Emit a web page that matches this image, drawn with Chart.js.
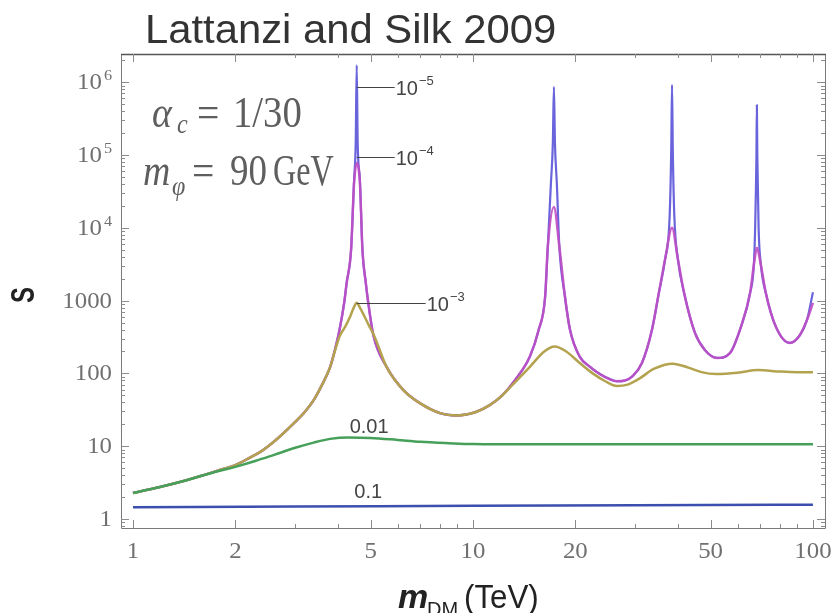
<!DOCTYPE html>
<html>
<head>
<meta charset="utf-8">
<title>Lattanzi and Silk 2009</title>
<script src="https://cdn.jsdelivr.net/npm/chart.js@4.4.1/dist/chart.umd.min.js"></script>
<style>
  html, body { margin: 0; padding: 0; background: #fff; }
  canvas { display: block; }
</style>
</head>
<body>
<canvas id="boostChart" width="833" height="613"></canvas>
<script>
// ============================================================
// Sommerfeld boost S vs m_DM, alpha_c = 1/30, m_phi = 90 GeV
// ============================================================

// ===== DATA =====
// v = 0.1
const massV01 = [1, 3, 10, 30, 100];
const boostV01 = [1.45, 1.48, 1.52, 1.55, 1.57];

// v = 0.01
const massV001 = [1.0, 1.2, 1.4, 1.6, 1.8, 2.0, 2.3, 2.6, 3.0, 3.4, 3.8, 4.3, 5.0, 6.0, 7.0, 8.5, 10, 15, 30, 100];
const boostV001 = [2.28, 2.75, 3.3, 3.95, 4.6, 5.2, 6.3, 7.6, 9.5, 11.2, 12.6, 13.2, 13.0, 12.2, 11.5, 11.0, 10.7, 10.6, 10.6, 10.6];

// v = 1e-3
const massV3 = [1.0, 1.2, 1.4, 1.6, 1.8, 2.0, 2.2, 2.4, 2.6, 2.8, 3.0, 3.2, 3.4, 3.6, 3.8, 3.95, 4.06,
  4.20, 4.35, 4.47, 4.55, 4.65, 4.80, 4.95, 5.12, 5.57, 6.24, 6.98, 8.0, 9.0, 10.2, 11.2, 12.2, 12.85,
  14.7, 16.2, 17.4, 18.8, 20.6, 22.5, 24.5, 26.5, 28.5, 31, 34, 38.7, 43, 47, 52, 60, 69, 80, 90, 100];
const boostV3 = [2.28, 2.75, 3.3, 3.95, 4.7, 5.5, 6.9, 8.7, 11.6, 15.8, 21.5, 29.5, 43, 70, 122, 225, 330,
  430, 600, 820, 934, 800, 600, 450, 330, 123, 59, 39, 28.5, 26.5, 29.5, 36.6, 50, 64,
  123, 200, 235, 200, 139, 100, 78, 67, 70, 86, 115, 136, 120, 104, 98, 102, 111, 106, 104, 104];

// v = 1e-4
const massV4 = [1.0, 1.2, 1.4, 1.6, 1.8, 2.0, 2.2, 2.4, 2.6, 2.8, 3.0, 3.2, 3.4, 3.6, 3.8, 3.95, 4.06,
  4.18, 4.25, 4.38, 4.47, 4.55, 4.65, 4.73, 4.84, 4.92, 5.09, 5.57, 6.24, 6.98, 8.0, 9.0,
  10.2, 11.2, 12.2, 13.3, 14.7, 15.6, 16.3, 16.6, 17.3, 17.95, 18.65, 19.3, 20.6, 22.0, 23.6, 25.3,
  26.5, 28.0, 29.5, 31.4, 33.6, 35.2, 36.7, 38.5, 40.1, 41.8, 45.0, 48.1, 52.2, 57.0, 61.4, 65.3,
  67.0, 68.4, 70.3, 72.7, 77.8, 85.5, 91.6, 96, 100];
const boostV4 = [2.28, 2.75, 3.3, 3.95, 4.7, 5.5, 6.9, 8.7, 11.6, 15.8, 21.5, 29.5, 43, 70, 122, 235, 420,
  934, 1740, 5000, 41200, 77500, 41200, 5000, 1740, 934, 340, 123, 59, 39, 28.5, 26.5,
  29.5, 36.6, 50, 81, 170, 395, 1120, 5500, 19300, 5500, 1120, 395, 170, 125, 98, 83,
  78, 80, 92, 139, 395, 1260, 3600, 10000, 3600, 1260, 357, 210, 163, 190, 436, 1260,
  3070, 5300, 3070, 1260, 436, 262, 337, 540, 930];

// v = 1e-5
const massV5 = [1.0, 1.2, 1.4, 1.6, 1.8, 2.0, 2.2, 2.4, 2.6, 2.8, 3.0, 3.2, 3.4, 3.6, 3.8, 3.95, 4.06,
  4.18, 4.25, 4.38, 4.47, 4.52, 4.55, 4.58, 4.65, 4.73, 4.84, 4.92, 5.09, 5.57, 6.24, 6.98, 8.0, 9.0,
  10.2, 11.2, 12.2, 13.3, 14.7, 15.6, 16.3, 16.6, 16.95, 17.18, 17.3, 17.42, 17.65, 17.95,
  18.65, 19.3, 20.6, 22.0, 23.6, 25.3, 26.5, 28.0, 29.5, 31.4, 33.6, 35.2, 36.7, 37.9, 38.3, 38.5, 38.7, 39.1,
  40.1, 41.8, 45.0, 48.1, 52.2, 57.0, 61.4, 65.3, 67.0, 67.6, 68.2, 68.4, 68.6, 69.2,
  70.3, 72.7, 77.8, 85.5, 91.6, 96, 100];
const boostV5 = [2.28, 2.75, 3.3, 3.95, 4.7, 5.5, 6.9, 8.7, 11.6, 15.8, 21.5, 29.5, 43, 70, 122, 235, 420,
  934, 1740, 5000, 45000, 150000, 1720000, 150000, 45000, 5000, 1740, 934, 340, 123, 59, 39, 28.5, 26.5,
  29.5, 36.6, 50, 81, 170, 395, 1120, 5500, 40000, 150000, 860000, 150000, 40000, 5500,
  1120, 395, 170, 125, 98, 83, 78, 80, 92, 139, 395, 1260, 3600, 15000, 120000, 920000, 120000, 15000,
  3600, 1260, 357, 210, 163, 190, 436, 1260, 3070, 10000, 100000, 486000, 100000, 10000,
  3070, 1260, 436, 262, 337, 540, 1300];

// ===== AXES =====
const xMajorTicks = [1, 2, 5, 10, 20, 50, 100];
const xTickLabels = ['1', '2', '5', '10', '20', '50', '100'];
const xMinorTicks = [3, 4, 6, 7, 8, 9, 30, 40, 60, 70, 80, 90];
const yMajorTicks = [1, 10, 100, 1000, 1e4, 1e5, 1e6];
const yTickLabels = [['1'], ['10'], ['100'], ['1000'], ['10', '4'], ['10', '5'], ['10', '6']];

// curve tags: [base, exponent, mass, boost, leader length]
const curveTags = [
  ['10', '\u22125', 4.55, 8.6e5, 38],
  ['10', '\u22124', 4.55, 9.4e4, 38],
  ['10', '\u22123', 4.55, 930, 69]
];
const plainTags = [['0.01', 4.95, 15.2], ['0.1', 4.92, 1.94]];

const SERIF = '"Liberation Serif", "Times New Roman", serif';
const SANS = '"Liberation Sans", Arial, sans-serif';

// text drawn with a horizontal squeeze/stretch
function scaledText(ctx, text, x, y, sx) {
  ctx.save();
  ctx.translate(x, y);
  ctx.scale(sx, 1);
  ctx.fillText(text, 0, 0);
  ctx.restore();
}

const frameAndLabels = {
  id: 'frameAndLabels',
  afterDraw(chart) {
    const { ctx, chartArea: a, scales: { x, y } } = chart;
    ctx.save();
    ctx.textAlign = 'left';
    ctx.textBaseline = 'alphabetic';

    // frame
    ctx.strokeStyle = '#7a7a7a';
    ctx.lineWidth = 1;
    ctx.beginPath();
    ctx.moveTo(a.left + 0.5, a.top);
    ctx.lineTo(a.left + 0.5, a.bottom + 0.5);
    ctx.lineTo(a.right + 0.5, a.bottom + 0.5);
    ctx.lineTo(a.right + 0.5, a.top);
    ctx.stroke();
    ctx.strokeStyle = '#555';
    ctx.lineWidth = 1.5;
    ctx.beginPath();
    ctx.moveTo(a.left, a.top + 0.5);
    ctx.lineTo(a.right + 1, a.top + 0.5);
    ctx.stroke();

    // ticks, pointing inwards on all four sides
    ctx.strokeStyle = '#8c8c8c';
    ctx.lineWidth = 1;
    const xTick = (v, len) => {
      const px = Math.round(x.getPixelForValue(v)) + 0.5;
      ctx.moveTo(px, a.bottom); ctx.lineTo(px, a.bottom - len);
      ctx.moveTo(px, a.top); ctx.lineTo(px, a.top + len);
    };
    const yTick = (v, len) => {
      const py = Math.round(y.getPixelForValue(v)) + 0.5;
      ctx.moveTo(a.left, py); ctx.lineTo(a.left + len, py);
      ctx.moveTo(a.right, py); ctx.lineTo(a.right - len, py);
    };
    ctx.beginPath();
    xMajorTicks.forEach(v => xTick(v, 8));
    xMinorTicks.forEach(v => xTick(v, 4));
    yMajorTicks.forEach(v => yTick(v, 8));
    for (let k = -1; k <= 6; k++) {
      for (let j = 2; j <= 9; j++) {
        const v = j * Math.pow(10, k);
        if (v > y.min && v < y.max) yTick(v, 4);
      }
    }
    ctx.stroke();

    // tick labels
    ctx.fillStyle = '#707070';
    const tickFont = '23px ' + SERIF;
    const supFont = '15px ' + SERIF;
    const sx = 1.08;
    ctx.font = tickFont;
    xMajorTicks.forEach((v, i) => {
      const w = ctx.measureText(xTickLabels[i]).width * sx;
      scaledText(ctx, xTickLabels[i], x.getPixelForValue(v) - w / 2, 558, sx);
    });
    yMajorTicks.forEach((v, i) => {
      const py = y.getPixelForValue(v);
      const [base, exp] = yTickLabels[i];
      ctx.font = tickFont;
      const wb = ctx.measureText(base).width * sx;
      let we = 0;
      if (exp) { ctx.font = supFont; we = ctx.measureText(exp).width * sx + 2; }
      const left = 112 - wb - we;
      ctx.font = tickFont;
      scaledText(ctx, base, left, py + 7, sx);
      if (exp) { ctx.font = supFont; scaledText(ctx, exp, left + wb + 2, py - 2, sx); }
    });

    // title
    ctx.fillStyle = '#333';
    ctx.font = '40px ' + SANS;
    scaledText(ctx, 'Lattanzi and Silk 2009', 145, 43, 1.045);

    // axis titles
    ctx.fillStyle = '#222';
    ctx.font = 'bold italic 34px ' + SANS;
    ctx.fillText('m', 398, 608);
    ctx.font = '20px ' + SANS;
    ctx.fillText('DM', 427, 616);
    ctx.font = '34px ' + SANS;
    scaledText(ctx, '(TeV)', 464, 608, 0.92);

    ctx.save();
    ctx.translate(25, 295);
    ctx.rotate(-Math.PI / 2);
    ctx.scale(0.92, 1.3);
    ctx.font = 'bold 26px ' + SANS;
    ctx.textAlign = 'center';
    ctx.textBaseline = 'middle';
    ctx.fillText('S', 0, 0);
    ctx.restore();

    // parameter box
    ctx.fillStyle = '#5e5e5e';
    const big = '44px ' + SERIF, bigIt = 'italic 44px ' + SERIF, subIt = 'italic 28px ' + SERIF;
    ctx.font = bigIt; scaledText(ctx, '\u03b1', 152, 127, 0.86);
    ctx.font = subIt; scaledText(ctx, 'c', 177, 133, 0.86);
    ctx.font = big; scaledText(ctx, '=', 197, 127, 0.9);
    scaledText(ctx, '1/30', 233, 127, 0.88);
    ctx.font = bigIt; scaledText(ctx, 'm', 143, 185, 0.86);
    ctx.font = subIt; scaledText(ctx, '\u03c6', 172, 195, 0.86);
    ctx.font = big; scaledText(ctx, '=', 192, 185, 0.9);
    scaledText(ctx, '90', 230, 185, 0.84);
    scaledText(ctx, 'GeV', 273, 185, 0.73);

    // velocity tags
    ctx.fillStyle = '#444';
    ctx.strokeStyle = '#444';
    ctx.lineWidth = 1;
    curveTags.forEach(([base, exp, m, s, lead]) => {
      const px = x.getPixelForValue(m);
      const py = Math.round(y.getPixelForValue(s)) + 0.5;
      ctx.beginPath();
      ctx.moveTo(px, py);
      ctx.lineTo(px + lead, py);
      ctx.stroke();
      ctx.font = '20px ' + SANS;
      ctx.fillText(base, px + lead + 1, py + 7);
      const wb = ctx.measureText(base).width;
      ctx.font = '13px ' + SANS;
      ctx.fillText(exp, px + lead + 2 + wb, py - 3);
    });
    ctx.font = '20px ' + SANS;
    ctx.textAlign = 'center';
    plainTags.forEach(([t, m, s]) => {
      ctx.fillText(t, x.getPixelForValue(m), y.getPixelForValue(s));
    });

    ctx.restore();
  }
};

const toPoints = (xs, ys) => xs.map((m, i) => ({ x: m, y: ys[i] }));

// dataset 0 is drawn last, so the list runs top layer first
new Chart(document.getElementById('boostChart'), {
  type: 'line',
  data: {
    datasets: [
      { label: 'v = 0.1', data: toPoints(massV01, boostV01), borderColor: '#3c4fae' },
      { label: 'v = 0.01', data: toPoints(massV001, boostV001), borderColor: '#46a05a' },
      { label: 'v = 1e-3', data: toPoints(massV3, boostV3), borderColor: '#b3a24e' },
      { label: 'v = 1e-4', data: toPoints(massV4, boostV4), borderColor: 'rgba(192, 78, 196, 0.9)' },
      { label: 'v = 1e-5', data: toPoints(massV5, boostV5), borderColor: '#6a64dc', borderWidth: 2.2 }
    ]
  },
  options: {
    responsive: false,
    animation: false,
    devicePixelRatio: 1,
    layout: { padding: { left: 121, top: 54, right: 8, bottom: 85 } },
    elements: {
      point: { radius: 0 },
      line: { borderWidth: 2.5, cubicInterpolationMode: 'monotone', fill: false, borderJoinStyle: 'round' }
    },
    plugins: { legend: { display: false }, tooltip: { enabled: false } },
    scales: {
      x: { type: 'logarithmic', min: 0.922, max: 108.5, display: false },
      y: { type: 'logarithmic', min: 0.752, max: 2.44e6, display: false }
    }
  },
  plugins: [frameAndLabels]
});
</script>
</body>
</html>
